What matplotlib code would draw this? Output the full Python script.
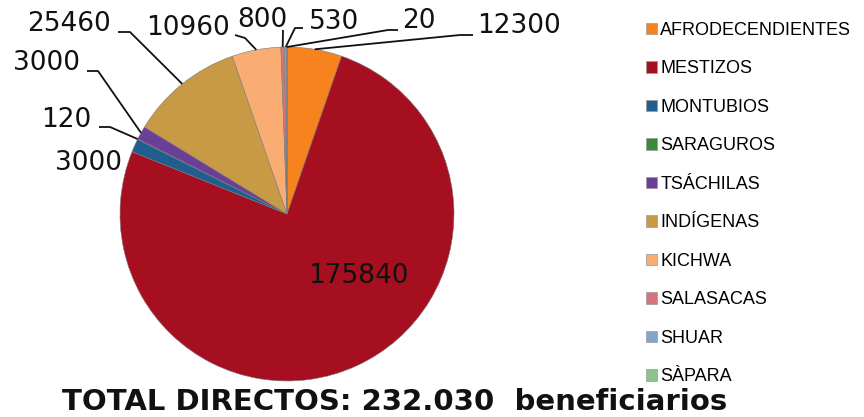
import matplotlib
matplotlib.use("Agg")
import matplotlib.pyplot as plt
import numpy as np
from matplotlib.patches import Patch

categories = ["AFRODECENDIENTES", "MESTIZOS", "MONTUBIOS", "SARAGUROS", "TSÁCHILAS",
              "INDÍGENAS", "KICHWA", "SALASACAS", "SHUAR", "SÀPARA"]
values = [12300, 175840, 3000, 120, 3000, 25460, 10960, 800, 530, 20]
colors = ["#F7831F", "#A60F1F", "#1F5E8E", "#3B8A3B", "#6B3F97",
          "#C99A45", "#F9AD72", "#D8727A", "#82A6C8", "#8DC38D"]
title_text = "TOTAL DIRECTOS: 232.030  beneficiarios"

W, H = 864, 417
CX, CY, R = 287, 214, 167

fig = plt.figure(figsize=(W / 100, H / 100), dpi=100)
ax = fig.add_axes([(CX - R) / W, (H - CY - R) / H, 2 * R / W, 2 * R / H])

wedges, _ = ax.pie(values, colors=colors, startangle=90, counterclock=False,
                   radius=1.0, wedgeprops=dict(edgecolor="#7a7a7a", linewidth=0.4))
ax.set_xlim(-1, 1)
ax.set_ylim(-1, 1)
ax.set_aspect("equal")
ax.axis("off")


def px(x, y):
    return ((x - CX) / R, (CY - y) / R)


# label layout: text centre (px) and leader path points (px) after wedge edge
label_layout = [
    ((519, 26), [(460, 35), (473, 35)]),
    ((358, 276), None),
    ((89, 163), None),
    ((66, 120), [(110, 127), (99, 127)]),
    ((47, 63), [(98, 71), (87, 71)]),
    ((69, 24), [(130, 32), (118, 32)]),
    ((188, 28), [(245, 38), (235, 35)]),
    ((262, 20), [(283, 30)]),
    ((334, 22), [(295, 28), (303, 28)]),
    ((419, 21), [(388, 30), (398, 30)]),
]

for w, v, (tpos, path) in zip(wedges, values, label_layout):
    tx, ty = px(*tpos)
    ax.text(tx, ty, str(v), ha="center", va="center", fontsize=19,
            family="DejaVu Sans", color="#111111", clip_on=False)
    if path:
        mid = np.deg2rad((w.theta1 + w.theta2) / 2)
        pts = [(np.cos(mid), np.sin(mid))] + [px(*p) for p in path]
        xs, ys = zip(*pts)
        ax.plot(xs, ys, color="#111111", lw=1.3, clip_on=False, solid_capstyle="butt")

handles = [Patch(facecolor=c, edgecolor="#999999", linewidth=0.5) for c in colors]
leg = fig.legend(handles, categories, loc="upper left",
                 bbox_to_anchor=(646 / W, 1 - 22 / H), frameon=False,
                 prop=dict(family="Liberation Sans", size=13),
                 handlelength=0.6, handleheight=0.6, handletextpad=0.2,
                 labelspacing=1.19, borderpad=0, borderaxespad=0)

fig.text(395 / W, 7.5 / H, title_text, ha="center", va="baseline",
         fontsize=21, fontweight="bold", family="DejaVu Sans", color="#111111")

fig.savefig("out.png", dpi=100)
